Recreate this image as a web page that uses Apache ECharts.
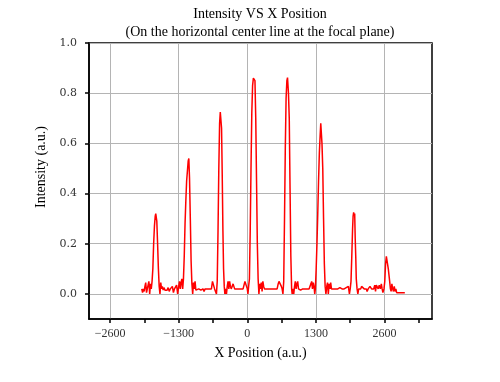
<!DOCTYPE html>
<html><head><meta charset="utf-8">
<script src="https://cdn.jsdelivr.net/npm/echarts@6/dist/echarts.min.js"></script>
<style>html,body{margin:0;padding:0;background:#fff}#c{width:500px;height:382px}</style>
</head><body><div id="c"></div>
<script>
// Tick positions
const xTickLabels = [-2600, -1300, 0, 1300, 2600];
const xMinorTicks = [-2600, -1950, -1300, -650, 0, 650, 1300, 1950, 2600, 3250];
const yTickLabels = [0, 0.2, 0.4, 0.6, 0.8, 1.0];

// Intensity profile: [x position (a.u.), intensity (a.u.)]
const profilePoints = [
  [-2000,.02],[-1985,.005],[-1970,.02],[-1955,.01],[-1940,.03],[-1925,.045],[-1910,.005],[-1895,.02],[-1880,.015],[-1865,.05],[-1850,0],[-1835,.04],[-1820,.02],[-1805,.05],
  [-1790,.10],[-1775,.20],[-1760,.27],[-1745,.31],[-1735,.32],[-1725,.325],[-1715,.29],[-1700,.20],[-1685,.10],[-1670,.03],[-1655,0],
  [-1640,.045],[-1625,.02],[-1610,.03],[-1595,.015],[-1580,.025],[-1560,.015],[-1540,.02],[-1520,.015],[-1500,.025],[-1480,.01],[-1460,.02],[-1440,.015],[-1420,.03],[-1400,.005],[-1380,.02],[-1360,.015],[-1340,.035],[-1320,0],[-1300,.03],[-1285,.05],[-1270,.02],[-1255,.045],[-1240,.06],[-1225,.02],
  [-1210,.06],[-1195,.15],[-1180,.28],[-1165,.37],[-1150,.45],[-1135,.49],[-1120,.53],[-1108,.54],[-1095,.46],[-1080,.30],[-1065,.13],[-1050,.04],[-1035,0],
  [-1020,.045],[-1005,.02],[-990,.05],[-975,.015],[-960,.02],[-940,.015],[-920,.02],[-900,.02],[-880,.015],[-860,.02],[-840,.02],[-820,.01],[-800,.02],[-780,.015],[-760,.02],[-740,.015],[-720,.02],[-700,.015],[-680,.02],[-660,.05],[-640,.05],[-620,.02],[-600,.015],[-585,0],
  [-570,.05],[-555,.25],[-540,.50],[-525,.68],[-512,.725],[-500,.72],[-488,.66],[-475,.47],[-462,.25],[-450,.10],[-437,.03],[-425,0],
  [-410,.02],[-395,0],[-380,.03],[-365,.05],[-350,.02],[-335,.05],[-320,.03],[-305,.02],[-290,.015],[-270,.04],[-255,.045],[-240,.02],[-220,.02],[-200,.02],[-180,.015],[-160,.02],[-140,.02],[-120,.02],[-100,.015],[-80,.02],[-60,.02],[-45,.05],[-30,.055],[-15,.05],[0,.02],[12,0],[25,.03],
  [40,.06],[55,.25],[70,.50],[85,.72],[100,.83],[115,.86],[130,.865],[145,.85],[160,.70],[175,.45],[190,.20],[205,.06],[220,0],
  [235,.04],[250,.02],[265,.045],[280,.01],[295,.05],[310,.03],[325,.02],[345,.02],[365,.02],[385,.015],[405,.02],[425,.02],[445,.02],[465,.015],[485,.02],[505,.02],[525,.02],[545,.02],[565,.02],[585,.04],[600,.05],[615,.045],[630,.05],[645,.03],[660,.02],[675,0],
  [690,.05],[705,.30],[720,.58],[735,.78],[750,.85],[762,.862],[780,.80],[795,.70],[810,.42],[825,.15],[840,.02],[850,0],
  [865,.02],[880,0],[895,.03],[910,.05],[925,.02],[940,.04],[955,.05],[970,.02],[990,.02],[1010,.015],[1030,.02],[1050,.02],[1070,.015],[1090,.02],[1110,.02],[1130,.02],[1150,.015],[1170,.02],[1190,.02],[1205,.04],[1220,.05],[1235,.02],[1250,.045],[1265,.03],[1278,0],
  [1290,.02],[1305,.10],[1320,.20],[1335,.32],[1350,.45],[1365,.56],[1380,.63],[1392,.68],[1402,.675],[1415,.60],[1430,.50],[1445,.30],[1460,.12],[1475,.03],[1490,0],
  [1505,.03],[1520,.045],[1535,0],[1550,.04],[1565,.02],[1580,.045],[1595,.02],[1615,.02],[1635,.02],[1655,.02],[1675,.02],[1695,.02],[1715,.02],[1735,.02],[1755,.025],[1775,.02],[1795,.02],[1815,.02],[1835,.02],[1855,.02],[1875,.025],[1895,.02],[1915,.03],[1935,0],
  [1950,.02],[1965,.05],[1980,.15],[1995,.26],[2005,.31],[2015,.325],[2025,.31],[2035,.32],[2045,.22],[2055,.15],[2065,.06],[2080,.02],[2095,0],
  [2110,.02],[2130,.02],[2150,.02],[2165,.03],[2180,.03],[2195,.025],[2215,.02],[2235,.02],[2255,.02],[2270,.01],[2290,.02],[2310,.02],[2325,.03],[2340,.03],[2355,.02],[2375,.02],[2395,.02],[2415,.035],[2430,.01],[2445,.035],[2460,.03],[2480,.02],[2500,.035],[2520,.02],[2540,.04],[2555,.02],[2570,.005],
  [2590,.02],[2605,.05],[2620,.12],[2635,.15],[2648,.155],[2660,.15],[2672,.10],[2685,.10],[2698,.05],[2712,.02],[2725,.01],[2740,.04],[2755,.02],[2770,.01],[2785,.03],[2800,.01],[2815,.02],[2830,.005],[2850,.005],[2870,.005],[2890,.005],[2910,.005],[2930,.005],[2950,.005],[2970,.005],[2985,.005]
];

const serif = 'Liberation Serif';
const chart = echarts.init(document.getElementById('c'), null, {renderer: 'canvas'});
chart.setOption({
  animation: false,
  backgroundColor: '#fff',
  title: [
    {text: 'Intensity VS X Position', left: 260, top: 7, padding: 0, textAlign: 'center',
     textStyle: {fontFamily: serif, fontSize: 14, fontWeight: 'normal', color: '#000'}},
    {text: '(On the horizontal center line at the focal plane)', left: 260, top: 25, padding: 0, textAlign: 'center',
     textStyle: {fontFamily: serif, fontSize: 14, fontWeight: 'normal', color: '#000'}}
  ],
  grid: {left: 89, right: 68, top: 43, bottom: 63, show: true, borderColor: '#000', borderWidth: 1.5, backgroundColor: 'transparent'},
  xAxis: [
    {type: 'value', min: -3000, max: 3500, position: 'bottom',
     name: 'X Position (a.u.)', nameLocation: 'middle', nameGap: 27,
     nameTextStyle: {fontFamily: serif, fontSize: 14, color: '#000'},
     axisLine: {show: true, onZero: false, lineStyle: {color: '#000', width: 1.5}},
     axisTick: {show: false, customValues: xTickLabels},
     axisLabel: {customValues: xTickLabels, margin: 9, fontFamily: serif, fontSize: 12, color: '#333',
       formatter: v => v < 0 ? '\u2212' + Math.abs(v) : String(v)},
     splitLine: {show: true, lineStyle: {color: '#b4b4b4', width: 1}}},
    {type: 'value', min: -3000, max: 3500, position: 'bottom',
     axisLine: {show: false, onZero: false},
     axisTick: {show: true, length: 4, customValues: xMinorTicks, lineStyle: {color: '#000', width: 1.5}},
     axisLabel: {show: false},
     splitLine: {show: false}}
  ],
  yAxis: [{
    type: 'value', min: -0.1, max: 1.0,
    name: 'Intensity (a.u.)', nameLocation: 'middle', nameGap: 35,
    nameTextStyle: {fontFamily: serif, fontSize: 14, color: '#000', padding: [0, 0, 0, 28]},
    axisLine: {show: true, onZero: false, lineStyle: {color: '#000', width: 1.5}},
    axisTick: {show: true, length: 4, customValues: yTickLabels, lineStyle: {color: '#000', width: 1.5}},
    axisLabel: {customValues: yTickLabels, margin: 12, fontFamily: 'DejaVu Serif', fontSize: 11, color: '#333',
      formatter: v => v.toFixed(1)},
    splitLine: {show: true, lineStyle: {color: '#b4b4b4', width: 1}}
  }],
  series: [{
    type: 'line', xAxisIndex: 0, yAxisIndex: 0,
    data: profilePoints, showSymbol: false, symbol: 'none',
    lineStyle: {color: '#ff0000', width: 1.5}, z: 5
  }]
});
</script></body></html>
